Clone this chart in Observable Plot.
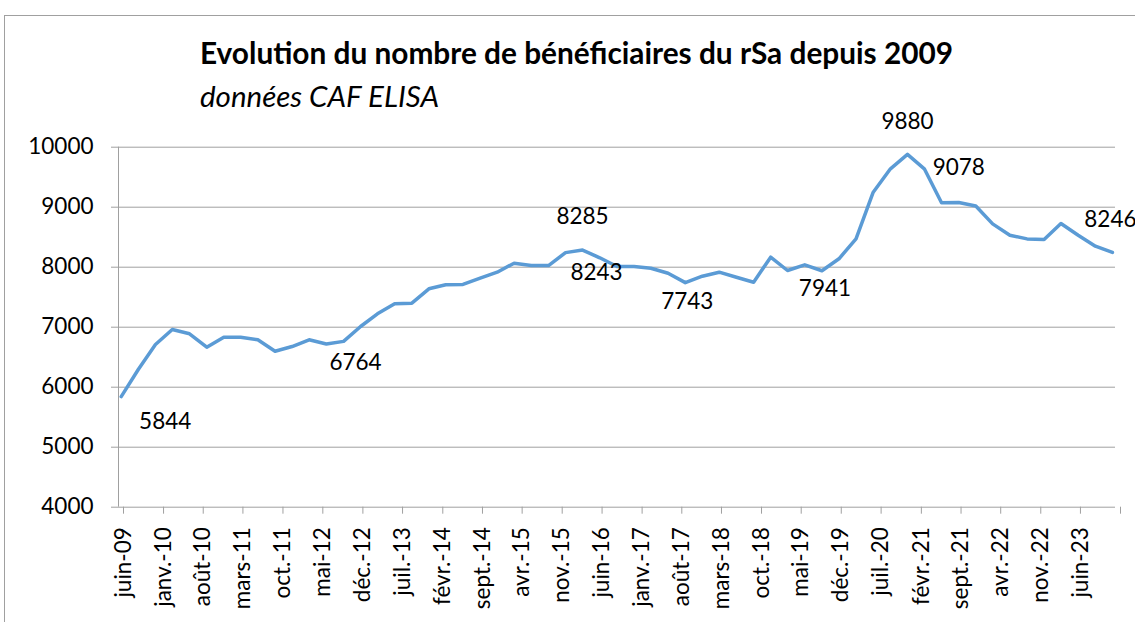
<!DOCTYPE html>
<html>
<head>
<meta charset="utf-8">
<script src="https://cdn.jsdelivr.net/npm/d3@7"></script>
<script src="https://cdn.jsdelivr.net/npm/@observablehq/plot@0.6"></script>
<style>
  html, body { margin: 0; padding: 0; background: #fff; }
  #wrap { position: relative; width: 1135px; height: 622px; overflow: hidden; font-family: Lato, sans-serif; }
  #frame { position: absolute; left: 4px; top: 15px; width: 1300px; height: 800px; border: 1px solid #a0a0a0; box-sizing: border-box; }
  #title { position: absolute; left: 200px; top: 38px; font-size: 29.8px; line-height: 29.8px; font-weight: bold; color: #000; white-space: nowrap; }
  #subtitle { position: absolute; left: 200px; top: 81px; font-size: 29.5px; line-height: 29.5px; font-style: italic; color: #000; white-space: nowrap; }
  #chart { position: absolute; left: 0; top: 0; }
</style>
</head>
<body>
<div id="wrap">
  <div id="frame"></div>
  <div id="chart"></div>
  <div id="title">Evolution du nombre de bénéficiaires du rSa depuis 2009</div>
  <div id="subtitle">données CAF ELISA</div>
</div>
<script>
// Quarterly observation months
const months = [
  "2009-06","2009-09","2009-12",
  "2010-03","2010-06","2010-09","2010-12",
  "2011-03","2011-06","2011-09","2011-12",
  "2012-03","2012-06","2012-09","2012-12",
  "2013-03","2013-06","2013-09","2013-12",
  "2014-03","2014-06","2014-09","2014-12",
  "2015-03","2015-06","2015-09","2015-12",
  "2016-03","2016-06","2016-09","2016-12",
  "2017-03","2017-06","2017-09","2017-12",
  "2018-03","2018-06","2018-09","2018-12",
  "2019-03","2019-06","2019-09","2019-12",
  "2020-03","2020-06","2020-09","2020-12",
  "2021-03","2021-06","2021-09","2021-12",
  "2022-03","2022-06","2022-09","2022-12",
  "2023-03","2023-06","2023-09","2023-12"
];
// Number of rSa beneficiaries
const beneficiaires = [
  5844, 6300, 6712,
  6962, 6890, 6667, 6833,
  6833, 6790, 6600, 6678,
  6790, 6720, 6764, 7012,
  7223, 7390, 7400, 7640,
  7707, 7712, 7817, 7917,
  8067, 8028, 8028, 8243,
  8285, 8157, 8012, 8012,
  7983, 7900, 7743, 7850,
  7917, 7833, 7750, 8167,
  7945, 8040, 7941, 8140,
  8473, 9250, 9640, 9880,
  9640, 9075, 9078, 9020,
  8722, 8533, 8472, 8462,
  8728, 8533, 8350, 8246
];
// Months whose values carry a data label
const labelledMonths = ["2009-06","2012-09","2015-12","2016-03","2017-09","2019-09","2020-12","2021-09","2023-12"];
// X-axis ticks (every 7 months) and their labels
const tickMonths = [
  "2009-06","2010-01","2010-08","2011-03","2011-10","2012-05","2012-12","2013-07","2014-02",
  "2014-09","2015-04","2015-11","2016-06","2017-01","2017-08","2018-03","2018-10","2019-05",
  "2019-12","2020-07","2021-02","2021-09","2022-04","2022-11","2023-06","2024-01"
];
const tickLabels = [
  "juin-09","janv.-10","août-10","mars-11","oct.-11","mai-12","déc.-12","juil.-13","févr.-14",
  "sept.-14","avr.-15","nov.-15","juin-16","janv.-17","août-17","mars-18","oct.-18","mai-19",
  "déc.-19","juil.-20","févr.-21","sept.-21","avr.-22","nov.-22","juin-23",""
];
const yTicks = [4000, 5000, 6000, 7000, 8000, 9000, 10000];

// ---- build table ----
const midMonth = m => new Date(m + "-15T12:00:00Z");
const monthStart = m => new Date(m + "-01T00:00:00Z");
const data = months.map((m, i) => ({date: midMonth(m), value: beneficiaires[i], key: m}));
const tickDates = tickMonths.map(monthStart);

// label placement (screen offsets, style only)
const labelOffsets = {
  "2009-06": [44, 25], "2012-09": [12, 21], "2015-12": [31, 20], "2016-03": [0, -33],
  "2017-09": [2, 19], "2019-09": [3, 18], "2020-12": [0, -33], "2021-09": [0, -35], "2023-12": [-2, -33]
};

const gray = "#a0a0a0";
const font = "Lato, sans-serif";
const fs = 22.5;

const labelMarks = labelledMonths.map(m => {
  const d = data.filter(r => r.key === m);
  const [dx, dy] = labelOffsets[m];
  return Plot.text(d, {x: "date", y: "value", text: r => String(r.value), dx, dy,
    fill: "#000", fontSize: fs, fontFamily: font, textAnchor: "middle"});
});

const chart = Plot.plot({
  width: 1135,
  height: 622,
  marginLeft: 118,
  marginRight: 20,
  marginTop: 146.7,
  marginBottom: 115.3,
  style: {background: "transparent", fontFamily: font, fontSize: fs + "px", color: "#000", overflow: "visible"},
  x: {type: "utc", domain: [monthStart("2009-06"), monthStart("2024-01")], label: null},
  y: {domain: [4000, 10000], label: null},
  marks: [
    Plot.gridY(yTicks, {stroke: gray, strokeOpacity: 1, strokeWidth: 1}),
    Plot.ruleX([monthStart("2009-06")], {stroke: gray, strokeWidth: 1}),
    Plot.axisY(yTicks, {label: null, tickSize: 7, tickPadding: 18, stroke: gray, fill: "#000", fontSize: fs, tickFormat: d => String(d)}),
    Plot.axisX(tickDates, {label: null, tickRotate: -90, tickSize: 7, tickPadding: 13, stroke: gray, fill: "#000", fontSize: fs, dx: 5,
      tickFormat: (d, i) => tickLabels[i]}),
    Plot.line(data, {x: "date", y: "value", stroke: "#5B9BD5", strokeWidth: 3.5, strokeLinejoin: "round", strokeLinecap: "round"}),
    ...labelMarks
  ]
});
document.getElementById("chart").appendChild(chart);
</script>
</body>
</html>
